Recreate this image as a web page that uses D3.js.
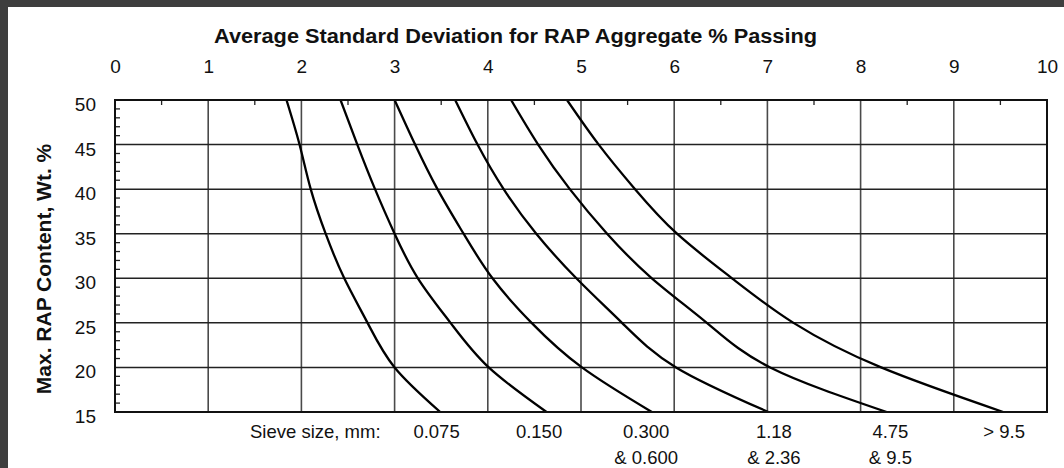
<!DOCTYPE html>
<html>
<head>
<meta charset="utf-8">
<script src="https://cdnjs.cloudflare.com/ajax/libs/d3/7.8.5/d3.min.js"></script>
<style>
  html, body { margin: 0; padding: 0; background: #fff; }
  svg { display: block; }
  text { font-family: "Liberation Sans", Arial, Helvetica, sans-serif; fill: #111; }
</style>
</head>
<body>
<svg id="chart" width="1064" height="468"></svg>
<script>
// RAP content levels (y) at which each curve was read
const rapLevels = [50, 45, 40, 35, 30, 25, 20, 15];

const sieve0075 = [1.84, 1.98, 2.10, 2.26, 2.46, 2.71, 3.00, 3.49];
const sieve0150 = [2.42, 2.60, 2.79, 3.00, 3.25, 3.60, 4.01, 4.63];
const sieve0300 = [3.00, 3.22, 3.46, 3.74, 4.05, 4.47, 5.01, 5.76];
const sieve118 = [3.65, 3.89, 4.17, 4.52, 4.95, 5.44, 6.02, 7.01];
const sieve475 = [4.25, 4.54, 4.88, 5.28, 5.76, 6.35, 7.03, 8.28];
const sieveOver95 = [4.85, 5.19, 5.58, 6.03, 6.62, 7.28, 8.22, 9.53];

const xTicks = [0, 1, 2, 3, 4, 5, 6, 7, 8, 9, 10];
const yTicks = [15, 20, 25, 30, 35, 40, 45, 50];

// sieve size labels under the chart, placed at a std-dev position
const sieveLabels = [
  {at: 3.45, lines: ['0.075']},
  {at: 4.55, lines: ['0.150']},
  {at: 5.7, lines: ['0.300', '& 0.600']},
  {at: 7.07, lines: ['1.18', '& 2.36']},
  {at: 8.32, lines: ['4.75', '& 9.5']},
  {at: 9.54, lines: ['> 9.5']}
];

const svg = d3.select('#chart');
const W = 1064, H = 468;
const mLeft = 115, mRight = 1047, mTop = 100, mBottom = 412;

// dark frame strips of the screenshot
svg.append('rect').attr('x', 0).attr('y', 0).attr('width', W).attr('height', 7).attr('fill', '#3e3e3e');
svg.append('rect').attr('x', 0).attr('y', 0).attr('width', 8).attr('height', H).attr('fill', '#3e3e3e');

const x = d3.scaleLinear().domain([0, 10]).range([mLeft, mRight]);
const y = d3.scaleLinear().domain([15, 50]).range([mBottom, mTop]);

// grid
svg.append('g').selectAll('line')
  .data(xTicks.slice(1, -1))
  .join('line')
    .attr('x1', d => x(d)).attr('x2', d => x(d))
    .attr('y1', mTop).attr('y2', mBottom)
    .attr('stroke', '#4a4a4a').attr('stroke-width', 1.6);

svg.append('g').selectAll('line')
  .data(yTicks.slice(1, -1))
  .join('line')
    .attr('x1', mLeft).attr('x2', mRight)
    .attr('y1', d => y(d)).attr('y2', d => y(d))
    .attr('stroke', '#222').attr('stroke-width', 1.5);

// minor ticks
svg.append('g').selectAll('line')
  .data(d3.range(0.5, 10, 1))
  .join('line')
    .attr('x1', d => x(d)).attr('x2', d => x(d))
    .attr('y1', mTop).attr('y2', mTop + 5)
    .attr('stroke', '#222').attr('stroke-width', 1.3);

svg.append('g').selectAll('line')
  .data(d3.range(16, 50).filter(v => v % 5 !== 0))
  .join('line')
    .attr('x1', mLeft).attr('x2', mLeft + 5)
    .attr('y1', d => y(d)).attr('y2', d => y(d))
    .attr('stroke', '#222').attr('stroke-width', 1.3);

// curves
const curves = [sieve0075, sieve0150, sieve0300, sieve118, sieve475, sieveOver95];
const line = d3.line()
  .x(d => x(d[0]))
  .y(d => y(d[1]))
  .curve(d3.curveNatural);

svg.append('clipPath').attr('id', 'plotClip')
  .append('rect').attr('x', mLeft).attr('y', mTop).attr('width', mRight - mLeft).attr('height', mBottom - mTop);

svg.append('g').attr('clip-path', 'url(#plotClip)')
  .selectAll('path')
  .data(curves)
  .join('path')
    .attr('d', vals => line(vals.map((v, i) => [v, rapLevels[i]])))
    .attr('fill', 'none')
    .attr('stroke', '#000')
    .attr('stroke-width', 2.3);

// frame
svg.append('rect')
  .attr('x', mLeft).attr('y', mTop)
  .attr('width', mRight - mLeft).attr('height', mBottom - mTop)
  .attr('fill', 'none').attr('stroke', '#111').attr('stroke-width', 2);

// axes (labels only)
const topAxis = svg.append('g')
  .attr('transform', `translate(0,${mTop})`)
  .call(d3.axisTop(x).tickValues(xTicks).tickSize(0).tickPadding(27).tickFormat(d3.format('d')));
topAxis.select('.domain').remove();
topAxis.selectAll('text').style('font-size', '19px').attr('font-family', null).attr('fill', '#111');

const leftAxis = svg.append('g')
  .attr('transform', `translate(${mLeft},0)`)
  .call(d3.axisLeft(y).tickValues(yTicks).tickSize(0).tickPadding(19));
leftAxis.select('.domain').remove();
leftAxis.selectAll('text').style('font-size', '19px').attr('font-family', null).attr('fill', '#111').attr('dy', '0.55em');

// title
svg.append('text')
  .attr('x', 214).attr('y', 43)
  .attr('textLength', 603).attr('lengthAdjust', 'spacingAndGlyphs')
  .style('font-size', '20px').style('font-weight', 'bold')
  .text('Average Standard Deviation for RAP Aggregate % Passing');

// y label
svg.append('text')
  .attr('transform', 'translate(51,269) rotate(-90)')
  .attr('text-anchor', 'middle')
  .style('font-size', '21px').style('font-weight', 'bold')
  .text('Max. RAP Content, Wt. %');

// sieve labels
svg.append('text')
  .attr('x', 250).attr('y', 438)
  .style('font-size', '18.5px')
  .text('Sieve size, mm:');

const sl = svg.append('g').selectAll('text')
  .data(sieveLabels)
  .join('text')
    .attr('x', d => x(d.at))
    .attr('y', 438)
    .attr('text-anchor', 'middle')
    .style('font-size', '18.5px');
sl.selectAll('tspan')
  .data(d => d.lines.map((t, i) => ({t, i, at: d.at})))
  .join('tspan')
    .attr('x', d => x(d.at))
    .attr('dy', d => d.i === 0 ? 0 : 26)
    .text(d => d.t);
</script>
</body>
</html>
